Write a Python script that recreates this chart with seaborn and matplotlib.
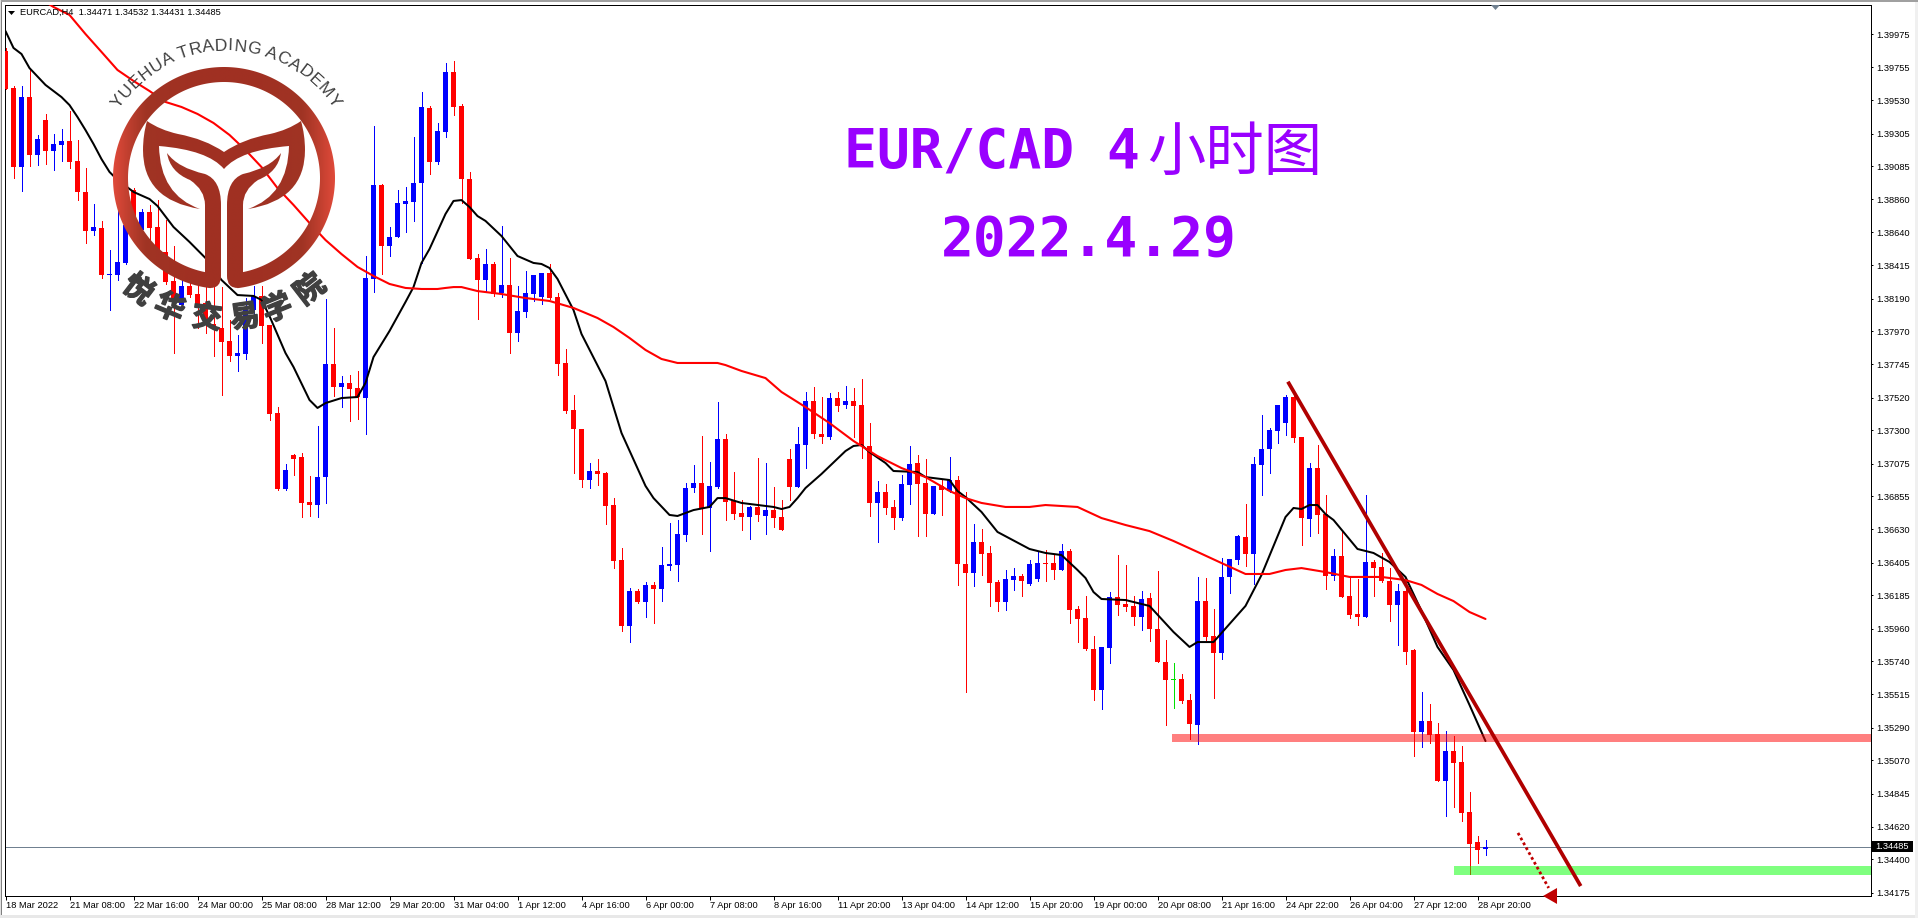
import numpy as np
import seaborn as sns
import matplotlib.pyplot as plt
import matplotlib.patheffects as pe
from matplotlib.colors import LinearSegmentedColormap
from matplotlib.font_manager import FontProperties
from matplotlib.patches import PathPatch, Polygon, Rectangle
from matplotlib.path import Path

# candles, in points (1/100000)
opens = [
    139863,139613,139079,139552,139160,139397,139187,139228,139255,139120,
    138911,138647,138667,138350,138350,138431,138924,138654,138775,138674,
    138505,138309,138147,138275,138221,138160,138018,137991,137903,137802,
    137816,138113,138208,138012,137417,136903,137133,137120,136815,136795,
    136984,137748,137593,137620,137586,137518,138323,138958,138545,138606,
    138829,138843,138971,139478,139113,139316,139721,139492,138998,138464,
    138316,138424,138228,138282,137958,138099,138221,138201,138363,138201,
    137755,137437,137309,136964,137025,137011,136795,136423,135977,136214,
    136140,136255,136227,136383,136390,136592,136910,136944,136775,136917,
    137241,136822,136741,136714,136782,136721,136761,136714,137106,136917,
    137201,137498,137275,137255,137518,137471,137498,137471,137194,136809,
    136883,136782,136707,136930,137079,136944,136734,136924,136890,136964,
    136396,136336,136545,136471,136275,136140,136288,136315,136261,136295,
    136403,136403,136356,136484,136092,136032,135822,135545,135829,136173,
    136126,136113,136038,136167,135957,135734,135613,135619,135477,135308,
    136146,135910,135795,136309,136423,136579,136464,137065,137174,137295,
    137349,137525,137255,136701,137045,136734,136315,136451,136180,136059,
    136038,136410,136376,136282,136119,136214,135815,135261,135335,135248,
    134930,135133,135058,134720,134518,134471]
highs = [
    139884,139627,139627,139748,139296,139438,139302,139336,139458,139262,
    139073,138829,138715,138519,138823,138856,138937,138796,138823,138856,
    138721,138545,138370,138336,138316,138289,138268,138268,138045,137944,
    138194,138275,138275,138012,137457,137072,137140,137147,136991,137329,
    138187,137991,137667,137674,137701,138478,139356,138965,138674,138924,
    138944,139282,139586,139492,139377,139782,139796,139505,139046,138491,
    138525,138437,138681,138464,138275,138377,138350,138363,138424,138228,
    137849,137539,137309,137079,137106,137018,136842,136505,136234,136227,
    136275,136275,136511,136674,136694,136944,137065,137261,137086,137491,
    137275,137018,136829,136788,137113,137079,136917,136829,137174,137322,
    137559,137593,137525,137552,137559,137599,137586,137647,137349,136957,
    136937,136829,136998,137194,137133,137106,136924,136964,137120,136991,
    136883,136667,136633,136518,136288,136356,136369,136329,136423,136484,
    136491,136457,136532,136498,136113,136180,135910,135836,136207,136457,
    136390,136180,136214,136200,136349,135883,135727,135653,135518,136309,
    136302,136092,136437,136430,136592,136802,137120,137403,137316,137471,
    137539,137552,137255,137079,137201,136863,136498,136619,136309,136295,
    136863,136423,136471,136369,136261,136288,135822,135532,135450,135322,
    135268,135234,135166,134856,134558,134532]
lows = [
    139606,139005,138917,139086,139093,139100,139059,139120,139073,138856,
    138566,138620,138329,138113,138316,138424,138654,138586,138586,138485,
    138289,137822,138127,138201,137991,137958,137802,137539,137768,137701,
    137782,138079,137890,137370,136897,136897,136998,136714,136721,136714,
    136809,137532,137457,137363,137376,137275,138235,138356,138478,138606,
    138640,138715,138431,139032,139100,139282,139431,138836,138458,138052,
    138235,138208,138201,137822,137903,138066,138174,138154,138187,137674,
    137417,137011,136917,136910,136930,136667,136369,135944,135869,136133,
    136038,135998,136146,136356,136282,136552,136883,136599,136484,136910,
    136694,136701,136626,136565,136687,136599,136646,136626,136829,136917,
    137045,137248,137214,137241,137430,137451,137255,137113,136721,136545,
    136734,136633,136694,136802,136586,136586,136734,136728,136883,136255,
    135532,136248,136322,136113,136079,136086,136221,136180,136255,136282,
    136282,136295,136356,135998,135869,135815,135477,135417,135727,136052,
    136079,135984,135950,135876,135734,135308,135423,135457,135214,135180,
    135883,135491,135755,136200,136396,136383,136261,136863,137011,137214,
    137268,137221,136525,136586,136606,136227,136288,136173,136032,135984,
    136038,136180,136275,136011,135849,135721,135099,135160,135187,134930,
    134694,134754,134660,134301,134376,134431]
closes = [
    139606,139079,139552,139160,139269,139187,139235,139255,139113,138911,
    138647,138674,138350,138356,138437,138687,138687,138775,138667,138505,
    138302,138181,138275,138214,138147,138018,137991,137897,137802,137822,
    138127,138208,138005,137410,136903,137032,137106,136809,136795,136984,
    137748,137593,137620,137579,137525,138329,138958,138545,138606,138836,
    138850,138971,139485,139113,139323,139721,139485,138998,138458,138316,
    138424,138221,138282,137958,138106,138228,138350,138363,138194,137748,
    137430,137309,136964,137025,137005,136788,136417,135977,136214,136140,
    136255,136227,136390,136396,136599,136910,136944,136775,136924,137241,
    136815,136734,136714,136782,136728,136761,136707,136626,136917,137207,
    137498,137275,137255,137518,137464,137498,137464,137194,136809,136883,
    136775,136707,136937,137072,136937,136734,136924,136897,136964,136396,
    136336,136545,136464,136268,136140,136295,136315,136282,136396,136403,
    136396,136356,136484,136086,136025,135822,135545,135836,136173,136119,
    136106,136038,136160,135957,135734,135613,135613,135471,135315,136146,
    135903,135795,136309,136430,136586,136464,137072,137174,137302,137471,
    137525,137248,136707,137045,136728,136315,136451,136173,136052,136038,
    136410,136369,136282,136119,136214,135802,135261,135335,135241,134930,
    135133,135052,134714,134504,134464,134485]

# moving averages, only the bars where the line was read
fast_bars = [0,1,2,3,5,7,8,9,10,11,12,13,14,16,18,19,21,23,25,27,29,31,32,33,35,36,38,39,40,42,44,45,46,48,50,51,52,53,55,56,57,58,59,60,62,64,66,67,68,69,71,72,75,77,80,81,83,84,86,88,89,90,92,96,97,98,99,100,102,105,106,107,108,110,111,114,115,118,119,120,122,124,128,130,132,134,135,136,137,140,143,146,148,149,151,155,157,160,161,162,163,164,165,166,169,171,173,175,177,179,181,183,185]
fast_vals = [139998,139884,139843,139748,139634,139552,139498,139417,139329,139235,139133,139046,138992,138911,138863,138816,138674,138573,138464,138316,138214,138208,138181,138072,137822,137728,137505,137451,137484,137518,137525,137620,137795,137971,138167,138268,138431,138525,138762,138850,138856,138809,138748,138715,138613,138478,138431,138424,138397,138323,138113,137951,137633,137282,136924,136842,136728,136721,136761,136782,136842,136842,136809,136782,136768,136782,136842,136910,137005,137160,137194,137201,137153,137079,137025,137018,136984,136964,136890,136849,136748,136613,136498,136471,136457,136356,136302,136207,136160,136153,136113,135937,135836,135869,135869,136113,136322,136714,136775,136768,136795,136795,136734,136694,136498,136471,136410,136309,136079,135836,135680,135444,135200]
slow_bars = [5,6,7,8,10,12,14,16,18,20,22,24,26,28,30,32,34,36,38,40,42,44,46,48,50,52,54,55,56,57,59,62,65,68,71,74,76,78,80,82,84,89,90,92,95,97,100,103,106,109,112,115,118,120,122,125,128,130,134,137,140,143,146,149,152,155,158,160,162,165,168,172,175,177,179,181,183,185]
slow_vals = [140194,140161,140134,140107,139978,139857,139735,139661,139593,139519,139485,139438,139377,139296,139194,139079,138937,138823,138701,138586,138491,138404,138343,138289,138262,138255,138255,138262,138268,138268,138241,138221,138194,138174,138127,138059,137998,137924,137843,137782,137755,137755,137741,137701,137653,137559,137457,137349,137228,137126,137045,136984,136890,136842,136809,136782,136782,136795,136782,136707,136660,136619,136552,136478,136403,136329,136329,136356,136369,136342,136309,136309,136288,136255,136194,136146,136072,136025]

date_labels = ["18 Mar 2022","21 Mar 08:00","22 Mar 16:00","24 Mar 00:00","25 Mar 08:00","28 Mar 12:00",
               "29 Mar 20:00","31 Mar 04:00","1 Apr 12:00","4 Apr 16:00","6 Apr 00:00","7 Apr 08:00",
               "8 Apr 16:00","11 Apr 20:00","13 Apr 04:00","14 Apr 12:00","15 Apr 20:00","19 Apr 00:00",
               "20 Apr 08:00","21 Apr 16:00","24 Apr 22:00","26 Apr 04:00","27 Apr 12:00","28 Apr 20:00"]
price_ticks = [1.39975,1.39755,1.39530,1.39305,1.39085,1.38860,1.38640,1.38415,1.38190,1.37970,1.37745,1.37520,
               1.37300,1.37075,1.36855,1.36630,1.36405,1.36185,1.35960,1.35740,1.35515,1.35290,1.35070,1.34845,
               1.34620,1.34400,1.34175]
last_price = 1.34485

# drawn objects on the chart, bar index / price
trend_bars = [160.3, 196.9]
trend_prices = [1.376285, 1.342200]
dot_bars = [189.06, 192.9]
dot_prices = [1.34579, 1.34207]
resistance = [1.35196, 1.35248]
resistance_from = 145.8
support = [1.34295, 1.34356]
support_from = 181.06

W, H = 1918, 918
L, R, T, B = 4.5, 1870.5, 4.5, 895.5

sns.set_theme(style="white")
plt.rcParams['font.family'] = ['Liberation Sans', 'Noto Sans CJK SC', 'DejaVu Sans']

fig = plt.figure(figsize=(W / 100, H / 100), dpi=100, facecolor='white')
ax = fig.add_axes([L / W, 1 - B / H, (R - L) / W, (B - T) / H])

o = np.array(opens) / 1e5
h = np.array(highs) / 1e5
l = np.array(lows) / 1e5
c = np.array(closes) / 1e5
bars = np.arange(len(o))
colors = np.where(c > o, '#0000FF', np.where(c < o, '#FF0000', '#00E000'))

ax.vlines(bars, l, h, colors=colors, linewidth=0.72, antialiased=False, zorder=2)
ax.bar(bars, np.maximum(np.abs(c - o), 0.00007), bottom=np.minimum(o, c), width=0.68,
       color=colors, linewidth=0, antialiased=False, zorder=3)

sns.lineplot(x=fast_bars, y=np.array(fast_vals) / 1e5, color='black', linewidth=1.45, ax=ax,
             estimator=None, errorbar=None, zorder=4)
sns.lineplot(x=slow_bars, y=np.array(slow_vals) / 1e5, color='#FF0000', linewidth=1.5, ax=ax,
             estimator=None, errorbar=None, zorder=4)

xmax = (R - 5.5) / 8
ax.axhline(last_price, color='#708090', linewidth=0.72, zorder=1)
ax.fill_between([resistance_from, xmax], resistance[0], resistance[1], color='#FF0000', alpha=0.5, linewidth=0, zorder=5)
ax.fill_between([support_from, xmax], support[0], support[1], color='#00FF00', alpha=0.5, linewidth=0, zorder=5)
ax.plot(trend_bars, trend_prices, color='#B00000', linewidth=2.7, solid_capstyle='butt', zorder=6)
ax.plot(dot_bars, dot_prices, color='#C00000', linewidth=2.0, linestyle=(0, (1, 1)), zorder=6)
ax.add_patch(Polygon([(192.2, 1.34153), (193.94, 1.34207), (193.94, 1.34099)], closed=True,
                     facecolor='#C00000', edgecolor='none', clip_on=False, zorder=6))

ax.set_xlim((L - 5.5) / 8, xmax)
ax.set_ylim((140208 - 6.758 * B) / 1e5, (140208 - 6.758 * T) / 1e5)
ax.set_xlabel('')
ax.set_ylabel('')
ax.set_xticks(np.arange(0, len(o), 8))
ax.set_xticklabels(date_labels, ha='left')
ax.yaxis.tick_right()
ax.set_yticks(price_ticks)
ax.set_yticklabels([f"{v:.5f}" for v in price_ticks])
ax.tick_params(axis='x', length=2.9, width=0.72, pad=0.8, labelsize=6.7, color='black', labelcolor='black', bottom=True)
ax.tick_params(axis='y', length=1.5, width=0.72, pad=2.6, labelsize=6.7, color='black', labelcolor='black', right=True)
for s in ax.spines.values():
    s.set_visible(True)
    s.set_color('black')
    s.set_linewidth(0.72)

# pixel overlay for header, title and logo
top = fig.add_axes([0, 0, 1, 1], facecolor='none', zorder=10)
top.set_axis_off()


def mirror(pts):
    return [(448 - x, y) for x, y in pts]


ring_t = np.radians(np.linspace(7, 353, 240))
ring_outer = np.column_stack([224 + 111 * np.sin(ring_t), 178 + 111 * np.cos(ring_t)])
ring_inner = np.column_stack([224 + 96 * np.sin(ring_t), 178 + 96 * np.cos(ring_t)])[::-1]
ring_path = Path(np.vstack([ring_outer, ring_inner, ring_outer[:1]]), closed=True)

band = [(147, 121), (160, 130), (178, 134), (205, 139), (224, 152), (224, 169), (208, 150), (159, 146),
        (160, 195), (200, 209), (143, 200), (143, 150), (143, 135), (147, 121)]
band_codes = [Path.MOVETO, Path.CURVE3, Path.CURVE3, Path.CURVE3, Path.CURVE3, Path.LINETO, Path.CURVE3, Path.CURVE3,
              Path.CURVE3, Path.CURVE3, Path.CURVE3, Path.CURVE3, Path.CURVE3, Path.CURVE3]
leaf = [(167, 153), (178, 168), (205, 174), (221, 180), (221, 205), (221, 276), (221, 288), (210, 288),
        (205, 285), (205, 205), (205, 190), (190, 180), (170, 172), (167, 153)]
leaf_codes = [Path.MOVETO, Path.CURVE3, Path.CURVE3, Path.CURVE3, Path.CURVE3, Path.LINETO, Path.CURVE3, Path.CURVE3,
              Path.LINETO, Path.LINETO, Path.CURVE3, Path.CURVE3, Path.CURVE3, Path.CURVE3]
pieces = [ring_path, Path(band, band_codes), Path(mirror(band), band_codes),
          Path(leaf, leaf_codes), Path(mirror(leaf), leaf_codes)]

logo_cmap = LinearSegmentedColormap.from_list('logo', ['#A03022', '#A03424', '#E04A3A'])
shade = np.abs(np.linspace(-1, 1, 256))[None, :] ** 2
for piece in pieces:
    im = top.imshow(shade, cmap=logo_cmap, vmin=0, vmax=1, extent=(113, 335, 289, 67), aspect='auto',
                    interpolation='bilinear')
    im.set_clip_path(PathPatch(piece, transform=top.transData))

top.set_xlim(0, W)
top.set_ylim(H, 0)

# window frame
top.add_patch(Rectangle((0, 0), W, 2, facecolor='#A0A0A0', edgecolor='none'))
top.add_patch(Rectangle((0, 0), 1, H, facecolor='#E0E0E0', edgecolor='none'))
top.add_patch(Rectangle((1, 2), 1, H, facecolor='#808080', edgecolor='none'))
top.add_patch(Rectangle((0, 915), W, 3, facecolor='#E8E8E8', edgecolor='none'))
top.add_patch(Rectangle((1915, 2), 3, H, facecolor='#F0F0F0', edgecolor='none'))

# header and markers
top.add_patch(Polygon([(8, 11), (15, 11), (11.5, 15)], closed=True, facecolor='black', edgecolor='none'))
top.add_patch(Polygon([(1491, 5), (1500, 5), (1495.5, 10)], closed=True, facecolor='#708090', edgecolor='none'))
top.text(20, 12.5, "EURCAD,H4  1.34471 1.34532 1.34431 1.34485", fontsize=6.7, color='black', va='center', ha='left')
top.add_patch(Rectangle((1872, 841), 41, 11, facecolor='black', edgecolor='none'))
top.text(1892.5, 846.5, f"{last_price:.5f}", fontsize=6.7, color='white', va='center', ha='center')

# title
purple = '#9900FF'
title_size = 39.3
top.text(844, 169, "EUR/CAD 4", fontsize=title_size, color=purple, family='DejaVu Sans Mono', fontweight='bold',
         va='baseline', ha='left')
top.text(1147, 170, "小时图", fontsize=42, color=purple, family='Noto Sans CJK SC', va='baseline', ha='left')
top.text(941, 256, "2022.4.29", fontsize=title_size, color=purple, family='DejaVu Sans Mono', fontweight='bold',
         va='baseline', ha='left')

# watermark lettering
renderer = fig.canvas.get_renderer()
arc_font = FontProperties(family='Liberation Sans', size=12.6)
arc_text = "YUEHUA TRADING ACADEMY"
arc_widths = []
for ch in arc_text:
    arc_widths.append(5.0 if ch == ' ' else renderer.get_text_width_height_descent(ch, arc_font, False)[0] + 0.8)
arc_r = 132
pos = -sum(arc_widths) / 2
for ch, w in zip(arc_text, arc_widths):
    a = (pos + w / 2) / arc_r
    top.text(226 + arc_r * np.sin(a), 178 - arc_r * np.cos(a), ch, fontproperties=arc_font, color='#404040',
             rotation=-np.degrees(a), rotation_mode='anchor', va='center', ha='center')
    pos += w

low_chars = "悦华交易学院"
low_angles = [37.5, 22.7, 7, -8.5, -22.2, -37.7]
for ch, deg in zip(low_chars, low_angles):
    a = np.radians(deg)
    top.text(224 - 141 * np.sin(a), 178 + 141 * np.cos(a), ch, fontsize=21.6, fontweight='bold', color='#404040',
             family='Noto Sans CJK SC', rotation=-deg, rotation_mode='anchor', va='center', ha='center',
             path_effects=[pe.withStroke(linewidth=1.0, foreground='#404040')])

fig.savefig('out.png', dpi=100)
